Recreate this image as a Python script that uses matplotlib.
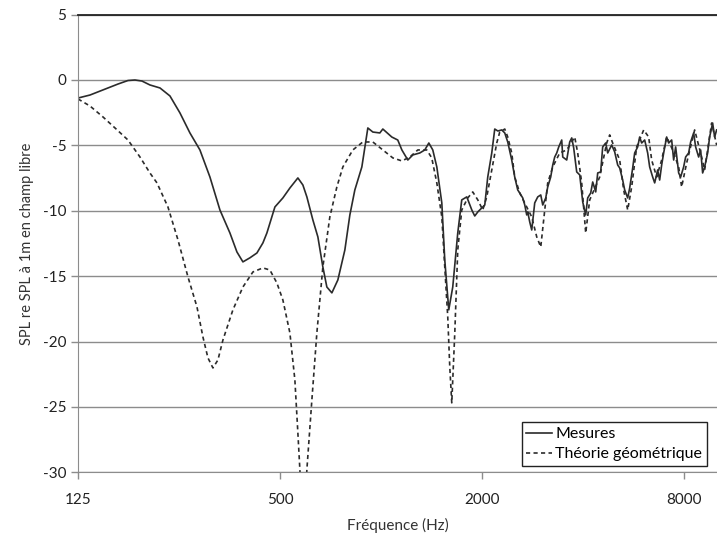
import matplotlib

matplotlib.use("Agg")
import matplotlib.pyplot as plt
from matplotlib.ticker import FixedLocator, FixedFormatter, NullLocator

plt.rcParams["font.family"] = ["Lato", "DejaVu Sans"]

# Mesures (measured)
freq_meas = [
    125, 135.7, 148.4, 164.4, 176.1, 184.7, 193.8, 204.7, 219.3, 234.8,
    251.5, 269.3, 288.4, 308.9, 330.8, 354.3, 371.7, 387.3, 406.3, 426.3,
    444.2, 456.5, 469.2, 482.3, 509.4, 534.5, 564.6, 584.3, 600.5, 625.7,
    647.6, 670.1, 688.7, 712.8, 742.7, 779.2, 806.4, 834.4, 875.5, 912.2,
    944.0, 990.4, 1011, 1075, 1120, 1152, 1200, 1242, 1303, 1348,
    1386, 1424, 1464, 1515, 1546, 1589, 1633, 1690, 1737, 1798,
    1861, 1899, 1939, 1993, 2034, 2076, 2134, 2178, 2224, 2285,
    2333, 2381, 2447, 2498, 2550, 2585, 2639, 2676, 2712, 2731,
    2769, 2807, 2865, 2925, 2986, 3027, 3090, 3132, 3197, 3242,
    3286, 3332, 3378, 3448, 3472, 3568, 3642, 3693, 3743, 3821,
    3901, 3982, 4064, 4120, 4206, 4264, 4353, 4413, 4504, 4566,
    4661, 4726, 4857, 4958, 5061, 5131, 5237, 5310, 5420, 5495,
    5609, 5686, 5804, 5884, 5965, 6090, 6216, 6302, 6433, 6522,
    6657, 6749, 6842, 6937, 7080, 7178, 7328, 7429, 7531, 7688,
    7794, 7955, 8065, 8233, 8347, 8520, 8638, 8817, 8939, 9062,
    9187, 9378, 9507, 9705, 9839, 9975,
]
spl_meas = [
    -1.38, -1.15, -0.76, -0.31, -0.04, 0.0, -0.08, -0.38, -0.61, -1.22,
    -2.52, -4.05, -5.35, -7.42, -9.94, -11.70, -13.15, -13.91, -13.6, -13.23,
    -12.46, -11.70, -10.70, -9.71, -9.02, -8.26, -7.49, -8.03, -8.94, -10.70,
    -12.0, -14.30, -15.83, -16.28, -15.29, -13.0, -10.32, -8.41, -6.65, -3.67,
    -3.98, -4.05, -3.75, -4.36, -4.59, -5.35, -6.12, -5.73, -5.58, -5.35,
    -4.82, -5.35, -6.65, -9.40, -13.76, -17.58, -15.83, -11.70, -9.17, -8.94,
    -9.94, -10.40, -10.09, -9.79, -9.56, -7.42, -5.58, -3.75, -3.90, -3.82,
    -4.05, -4.74, -6.12, -7.42, -8.41, -8.64, -9.02, -9.56, -10.32, -10.09,
    -10.86, -11.47, -9.40, -8.94, -8.79, -9.56, -9.02, -8.18, -7.42, -6.50,
    -5.89, -5.58, -5.12, -4.59, -5.89, -6.12, -4.74, -4.43, -5.20, -7.03,
    -7.26, -9.33, -10.32, -9.02, -8.64, -7.80, -8.56, -7.11, -7.03, -5.12,
    -4.82, -5.58, -4.97, -5.50, -6.50, -6.73, -7.65, -8.41, -9.02, -8.26,
    -6.73, -5.58, -5.12, -4.36, -4.82, -4.59, -5.58, -6.65, -7.42, -7.87,
    -6.88, -7.65, -6.50, -5.58, -4.36, -4.82, -4.59, -6.12, -5.12, -7.11,
    -7.42, -6.65, -5.89, -5.58, -4.74, -4.05, -5.12, -5.89, -5.35, -7.11,
    -6.65, -5.58, -4.36, -3.29, -4.36, -3.82,
]

# Théorie géométrique (geometric theory)
freq_theo = [
    125, 135.7, 148.4, 161.1, 176.1, 191.2, 204.7, 214.8, 231.6, 248.1,
    265.7, 282.6, 294.4, 304.7, 315.3, 326.3, 337.7, 361.6, 387.3, 414.8,
    444.2, 466.0, 488.9, 509.4, 534.5, 553.1, 564.6, 572.4, 586.3, 600.5,
    621.5, 643.1, 670.1, 703.0, 737.6, 768.6, 823.1, 881.5, 944.0, 1011,
    1083, 1152, 1217, 1285, 1367, 1414, 1464, 1515, 1546, 1578,
    1600, 1622, 1656, 1690, 1737, 1810, 1873, 1939, 2006, 2062,
    2134, 2208, 2254, 2333, 2381, 2447, 2498, 2585, 2712, 2807,
    2905, 2986, 3069, 3132, 3242, 3401, 3568, 3693, 3769, 3847,
    3954, 4064, 4177, 4473, 4693, 4791, 4890, 5131, 5273, 5420,
    5570, 5765, 6048, 6259, 6389, 6611, 6842, 7080, 7378, 7688,
    7847, 8121, 8579, 9000, 9187, 9639, 9975,
]
spl_theo = [
    -1.45, -1.99, -2.83, -3.67, -4.59, -5.89, -7.11, -7.87, -9.71, -12.23,
    -15.06, -17.35, -19.65, -21.25, -22.02, -21.41, -19.88, -17.58, -15.83, -14.68,
    -14.37, -14.53, -15.52, -16.82, -19.34, -22.94, -26.99, -29.8, -36.0, -29.8,
    -24.46, -19.34, -14.30, -10.47, -8.18, -6.65, -5.35, -4.74, -4.74, -5.35,
    -5.96, -6.19, -5.89, -5.35, -5.35, -5.96, -7.87, -10.47, -14.30, -18.12,
    -21.94, -24.69, -19.34, -13.0, -9.94, -9.02, -8.56, -9.17, -9.94, -8.94,
    -6.88, -4.82, -3.98, -3.75, -4.36, -5.58, -7.42, -8.64, -9.71, -10.47,
    -12.0, -12.77, -9.94, -7.87, -6.65, -5.58, -5.35, -4.74, -4.36, -5.58,
    -7.87, -11.70, -9.17, -7.42, -4.82, -4.20, -4.82, -6.12, -8.41, -9.94,
    -8.18, -5.12, -3.82, -4.36, -6.12, -7.42, -6.12, -4.36, -5.35, -6.65,
    -8.18, -6.35, -3.82, -5.89, -6.88, -3.29, -4.97,
]

x_ticks = [125, 500, 2000, 8000]
x_labels = ["125", "500", "2000", "8000"]
y_ticks = [5, 0, -5, -10, -15, -20, -25, -30]
y_labels = ["5", "0", "-5", "-10", "-15", "-20", "-25", "-30"]

fig = plt.figure(figsize=(7.17, 5.33), dpi=100)
ax = fig.add_axes([0.1088, 0.1139, 0.8912, 0.8587])

ax.plot(freq_meas, spl_meas, color="#2b2b2b", lw=1.2, label="Mesures")
ax.plot(freq_theo, spl_theo, color="#2b2b2b", lw=1.2, linestyle=(0, (2.5, 2)),
        label="Théorie géométrique")

ax.set_xscale("log")
ax.set_xlim(125, 10000)
ax.set_ylim(-30, 5)
ax.xaxis.set_major_locator(FixedLocator(x_ticks))
ax.xaxis.set_major_formatter(FixedFormatter(x_labels))
ax.xaxis.set_minor_locator(NullLocator())
ax.yaxis.set_major_locator(FixedLocator(y_ticks))
ax.yaxis.set_major_formatter(FixedFormatter(y_labels))

ax.grid(axis="y", color="#8c8c8c", lw=1.0)
ax.set_axisbelow(True)
ax.spines["right"].set_visible(False)
ax.spines["top"].set_color("#222222")
ax.spines["top"].set_linewidth(1.3)
ax.spines["left"].set_color("#8c8c8c")
ax.spines["bottom"].set_color("#8c8c8c")
ax.tick_params(axis="both", colors="#8c8c8c", labelcolor="#222222",
               labelsize=11, length=5, width=1.0)
ax.tick_params(axis="x", pad=10)

ax.set_xlabel("Fréquence (Hz)", fontsize=11, color="#333333", labelpad=8)
ax.set_ylabel("SPL re SPL à 1m en champ libre", fontsize=10.5,
              color="#333333", labelpad=6)

leg = ax.legend(loc="lower right", bbox_to_anchor=(0.984, 0.014),
                borderaxespad=0, fontsize=11.5, handlelength=1.6,
                handletextpad=0.2, fancybox=False, framealpha=1,
                borderpad=0.3, labelspacing=0.35)
leg.get_frame().set_edgecolor("#222222")
leg.get_frame().set_linewidth(1.0)

fig.savefig("out.png", dpi=100)
